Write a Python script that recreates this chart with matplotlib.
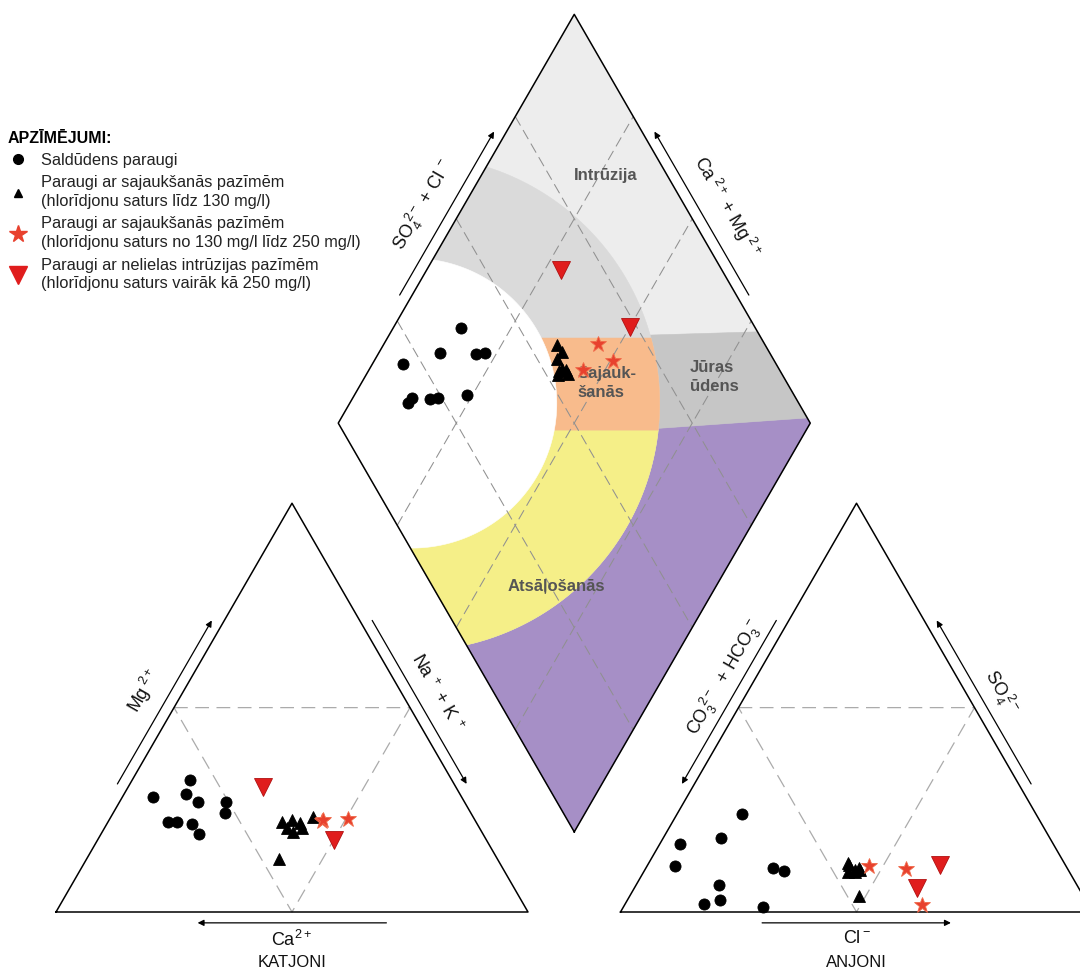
import numpy as np
import matplotlib.pyplot as plt
from matplotlib.lines import Line2D

plt.rcParams['font.family'] = ['Liberation Sans', 'DejaVu Sans']
plt.rcParams['mathtext.fontset'] = 'custom'
plt.rcParams['mathtext.rm'] = 'Liberation Sans'
plt.rcParams['mathtext.it'] = 'Liberation Sans:italic'
plt.rcParams['mathtext.bf'] = 'Liberation Sans:bold'
plt.rcParams['mathtext.default'] = 'regular'

# ---- samples, meq % of major ions ----
# saldudens (fresh water)
fresh_ca = [65.3, 55.5, 65.3, 58.1, 63.4, 56.5, 60.4, 60.2, 50.5, 52.0]
fresh_mg = [28.1, 32.3, 22.1, 28.8, 22.1, 27.0, 21.5, 19.1, 27.0, 24.2]
fresh_na = [6.6, 12.2, 12.6, 13.1, 14.5, 16.5, 18.1, 20.7, 22.5, 23.8]
fresh_hco3 = [79.0, 82.8, 81.3, 69.8, 62.3, 77.5, 75.8, 62.3, 60.4, 69.2]
fresh_so4 = [16.6, 11.3, 2.0, 18.0, 24.0, 2.9, 6.6, 10.8, 10.0, 1.2]
fresh_cl = [4.4, 5.9, 16.7, 12.2, 13.7, 19.6, 17.6, 26.9, 29.6, 29.6]

# mixing, Cl < 130 mg/l
mix_ca = [41.1, 38.8, 37.5, 40.9, 39.9, 37.7, 34.0, 46.4]
mix_mg = [22.1, 22.5, 21.7, 20.5, 19.6, 20.5, 23.3, 12.9]
mix_na = [36.8, 38.7, 40.8, 38.6, 40.5, 41.8, 42.7, 40.7]
mix_hco3 = [44.1, 44.0, 45.9, 45.8, 46.8, 45.3, 45.4, 47.5]
mix_so4 = [10.3, 10.8, 11.5, 11.9, 9.9, 10.2, 9.9, 3.9]
mix_cl = [45.6, 45.2, 42.6, 42.3, 43.3, 44.5, 44.7, 48.6]

# mixing, Cl 130-250 mg/l
mix2_ca = [32.4, 26.7, 32.2]
mix2_mg = [22.3, 22.7, 22.4]
mix2_na = [45.3, 50.6, 45.4]
mix2_hco3 = [41.7, 34.2, 35.2]
mix2_so4 = [11.3, 10.5, 1.7]
mix2_cl = [47.0, 55.3, 63.1]

# intrusion, Cl > 250 mg/l
intr_ca = [40.9, 32.4]
intr_mg = [30.7, 17.6]
intr_na = [28.4, 50.0]
intr_hco3 = [34.2, 26.5]
intr_so4 = [5.8, 11.5]
intr_cl = [60.0, 62.0]

legend_labels = [
    'Saldūdens paraugi',
    'Paraugi ar sajaukšanās pazīmēm\n(hlorīdjonu saturs līdz 130 mg/l)',
    'Paraugi ar sajaukšanās pazīmēm\n(hlorīdjonu saturs no 130 mg/l līdz 250 mg/l)',
    'Paraugi ar nelielas intrūzijas pazīmēm\n(hlorīdjonu saturs vairāk kā 250 mg/l)',
]

STAR_RED = '#e8412e'
INV_RED = '#e01d1d'
styles = [
    dict(marker='o', color='black', ms=8),
    dict(marker='^', color='black', ms=8),
    dict(marker='*', color=STAR_RED, mec='#f06a4a', ms=12),
    dict(marker='v', color=INV_RED, mec='#b01010', ms=13),
]
groups = [
    (fresh_ca, fresh_mg, fresh_na, fresh_hco3, fresh_so4, fresh_cl),
    (mix_ca, mix_mg, mix_na, mix_hco3, mix_so4, mix_cl),
    (mix2_ca, mix2_mg, mix2_na, mix2_hco3, mix2_so4, mix2_cl),
    (intr_ca, intr_mg, intr_na, intr_hco3, intr_so4, intr_cl),
]

# ---- piper geometry (triangle side = 1) ----
GAP = 0.196
H = np.sqrt(3) / 2
OX = 1 + GAP          # left corner of anion triangle
B = (1 + GAP / 2, GAP * H)
R = (B[0] + 0.5, B[1] + H)
T = (B[0], B[1] + 2 * H)
L = (B[0] - 0.5, B[1] + H)


def cation_xy(ca, mg, na):
    ca, mg, na = map(np.asarray, (ca, mg, na))
    tot = ca + mg + na
    m, n = mg / tot, na / tot
    return n + m / 2, m * H


def anion_xy(hco3, so4, cl):
    hco3, so4, cl = map(np.asarray, (hco3, so4, cl))
    tot = hco3 + so4 + cl
    s, c = so4 / tot, cl / tot
    return OX + c + s / 2, s * H


def dpt(n, t):
    return B[0] + (t - (1 - n)) / 2, B[1] + (t + (1 - n)) * H


def diamond_xy(ca, mg, na, hco3, so4, cl):
    ca, mg, na, hco3, so4, cl = map(np.asarray, (ca, mg, na, hco3, so4, cl))
    n = na / (ca + mg + na)
    t = (so4 + cl) / (hco3 + so4 + cl)
    return dpt(n, t)


def clip(subject, clipper):
    # Sutherland-Hodgman, both polygons counter-clockwise, clipper convex
    out = list(subject)
    for i in range(len(clipper)):
        a, b = clipper[i], clipper[(i + 1) % len(clipper)]
        inp, out = out, []
        if not inp:
            break

        def inside(p):
            return (b[0] - a[0]) * (p[1] - a[1]) - (b[1] - a[1]) * (p[0] - a[0]) >= 0

        def cross(p, q):
            x1, y1 = p
            x2, y2 = q
            den = (x1 - x2) * (a[1] - b[1]) - (y1 - y2) * (a[0] - b[0])
            tt = ((x1 - a[0]) * (a[1] - b[1]) - (y1 - a[1]) * (a[0] - b[0])) / den
            return (x1 + tt * (x2 - x1), y1 + tt * (y2 - y1))

        s = inp[-1]
        for e in inp:
            if inside(e):
                if not inside(s):
                    out.append(cross(s, e))
                out.append(e)
            elif inside(s):
                out.append(cross(s, e))
            s = e
    return out


def circle_poly(c, r, n=300):
    a = np.linspace(0, 2 * np.pi, n, endpoint=False)
    return list(zip(c[0] + r * np.cos(a), c[1] + r * np.sin(a)))


def along(p, q, s, off, inside):
    p, q, inside = np.array(p), np.array(q), np.array(inside)
    d = q - p
    nrm = np.array([d[1], -d[0]]) / np.hypot(*d)
    base = p + s * d
    if np.dot(base - inside, nrm) < 0:
        nrm = -nrm
    return base + off * nrm


fig = plt.figure(figsize=(10.8, 9.68), dpi=100)
ax = fig.add_axes([0, 0, 1, 1])
ax.set_xlim(-56 / 472, 1024 / 472)
ax.set_ylim(-56 / 472, 912 / 472)
ax.axis('off')


def fill(poly, color):
    if len(poly) > 2:
        xs, ys = zip(*poly)
        ax.fill(xs, ys, fc=color, ec=color, lw=0.4, zorder=1)


# ---- diamond field regions ----
diamond = [B, R, T, L]
MIX_C = (0.754, 1.078)
R_IN, R_OUT = 0.307, 0.525
Y_LO, Y_HI = 1.021, 1.216


def purple_top(x):
    return 1.0254 + 0.07 * (x - 1.2867)


def sea_top(x):
    return 1.2225 + 0.03 * (x - 1.2648)


fill(diamond, '#ededed')
fill(clip(diamond, [(0, -1), (3, -1), (3, purple_top(3)), (0, purple_top(0))]), '#a68fc6')
fill(clip(diamond, [(1.0, purple_top(1.0)), (1.9, purple_top(1.9)),
                    (1.9, sea_top(1.9)), (1.0, sea_top(1.0))]), '#c6c6c6')
outer = clip(circle_poly(MIX_C, R_OUT), diamond)
fill(outer, '#dadada')
fill(clip(outer, [(0, -1), (3, -1), (3, Y_LO), (0, Y_LO)]), '#f5ef88')
fill(clip(outer, [(0, Y_LO), (3, Y_LO), (3, Y_HI), (0, Y_HI)]), '#f8bb8c')
fill(clip(circle_poly(MIX_C, R_IN), diamond), 'white')

# ---- grid lines ----
for f in (0.25, 0.5, 0.75):
    for p, q in ((dpt(0, f), dpt(1, f)), (dpt(f, 0), dpt(f, 1))):
        ax.plot([p[0], q[0]], [p[1], q[1]], color='#909090', lw=0.75,
                dashes=(10, 5), zorder=2)
for ox in (0, OX):
    xs = [ox + 0.25, ox + 0.75, ox + 0.5, ox + 0.25]
    ys = [H / 2, H / 2, 0, H / 2]
    ax.plot(xs, ys, color='#ababab', lw=0.9, dashes=(11, 6), zorder=2)

# ---- outlines ----
for ox in (0, OX):
    ax.plot([ox, ox + 1, ox + 0.5, ox], [0, 0, H, 0], color='black', lw=1.1, zorder=3)
ax.plot([B[0], R[0], T[0], L[0], B[0]], [B[1], R[1], T[1], L[1], B[1]],
        color='black', lw=1.1, zorder=3)

# ---- axis arrows ----
arrow_kw = dict(arrowstyle='-|>', lw=0.9, color='black', mutation_scale=9,
                shrinkA=0, shrinkB=0)
c_left = (0.5, 0.3)
c_right = (OX + 0.5, 0.3)
c_dia = (B[0], B[1] + H)
edges = [
    ((0, 0), (0.5, H), c_left),
    ((0.5, H), (1, 0), c_left),
    ((1, 0), (0, 0), c_left),
    ((OX + 0.5, H), (OX, 0), c_right),
    ((OX + 1, 0), (OX + 0.5, H), c_right),
    ((OX, 0), (OX + 1, 0), c_right),
    (L, T, c_dia),
    (R, T, c_dia),
]
for p, q, ins in edges:
    a0 = along(p, q, 0.30, 0.023, ins)
    a1 = along(p, q, 0.70, 0.023, ins)
    ax.annotate('', xy=a1, xytext=a0, arrowprops=arrow_kw, zorder=3)

# ---- axis labels ----
lab_kw = dict(ha='center', va='center', fontsize=13, color='#111111')
labels = [
    ('Mg$^{\\ 2+}$', along((0, 0), (0.5, H), 0.5, 0.072, c_left), 60),
    ('Na$^{\\ +}$ + K$^{\\ +}$', along((1, 0), (0.5, H), 0.5, 0.066, c_left), -60),
    ('CO$_3^{\\ 2-}$  + HCO$_3^{\\ -}$', along((OX, 0), (OX + 0.5, H), 0.54, 0.058, c_right), 60),
    ('SO$_4^{\\ 2-}$', along((OX + 1, 0), (OX + 0.5, H), 0.5, 0.064, c_right), -60),
    ('SO$_4^{\\ 2-}$ + Cl$^{\\ -}$', along(L, T, 0.49, 0.074, c_dia), 60),
    ('Ca$^{\\ 2+}$ + Mg$^{\\ 2+}$', along(R, T, 0.485, 0.076, c_dia), -60),
]
for txt, pos, rot in labels:
    ax.text(pos[0], pos[1], txt, rotation=rot, rotation_mode='anchor', **lab_kw)
ax.text(0.5, -0.06, 'Ca$^{2+}$', **lab_kw)
ax.text(0.5, -0.106, 'KATJONI', ha='center', va='center', fontsize=12, color='#111111')
ax.text(OX + 0.5, -0.056, 'Cl$^-$', **lab_kw)
ax.text(OX + 0.5, -0.106, 'ANJONI', ha='center', va='center', fontsize=12, color='#111111')

# ---- field names ----
field_kw = dict(va='center', fontsize=12, fontweight='bold',
                color='#555555', zorder=4)
ax.text(1.164, 1.561, 'Intrūzija', ha='center', **field_kw)
ax.text(1.104, 1.121, 'Sajauk-\nšanās', ha='left', linespacing=1.3, **field_kw)
ax.text(1.343, 1.133, 'Jūras\nūdens', ha='left', linespacing=1.3, **field_kw)
ax.text(1.060, 0.689, 'Atsāļošanās', ha='center', **field_kw)

# ---- samples ----
for g, st in zip(groups, styles):
    ca, mg, na, hco3, so4, cl = g
    for x, y in (cation_xy(ca, mg, na), anion_xy(hco3, so4, cl),
                 diamond_xy(ca, mg, na, hco3, so4, cl)):
        ax.plot(x, y, ls='none', mew=0.6, zorder=5, **st)

# ---- legend ----
handles = [
    Line2D([], [], ls='none', marker='o', color='black', ms=7),
    Line2D([], [], ls='none', marker='^', color='black', ms=6),
    Line2D([], [], ls='none', marker='*', color=STAR_RED, ms=13),
    Line2D([], [], ls='none', marker='v', color=INV_RED, ms=13),
]
leg = fig.legend(handles, legend_labels, loc='upper left',
                 bbox_to_anchor=(8 / 1080, 1 - 131 / 968), frameon=False,
                 title='APZĪMĒJUMI:', alignment='left',
                 title_fontproperties={'weight': 'bold', 'size': 11.5},
                 prop={'size': 11.8}, handlelength=1.2, handletextpad=0.8,
                 labelspacing=0.44, borderpad=0, borderaxespad=0)
for t in leg.get_texts():
    t.set_linespacing(1.32)
    t.set_color('#222222')

fig.savefig('out.png', dpi=100)
